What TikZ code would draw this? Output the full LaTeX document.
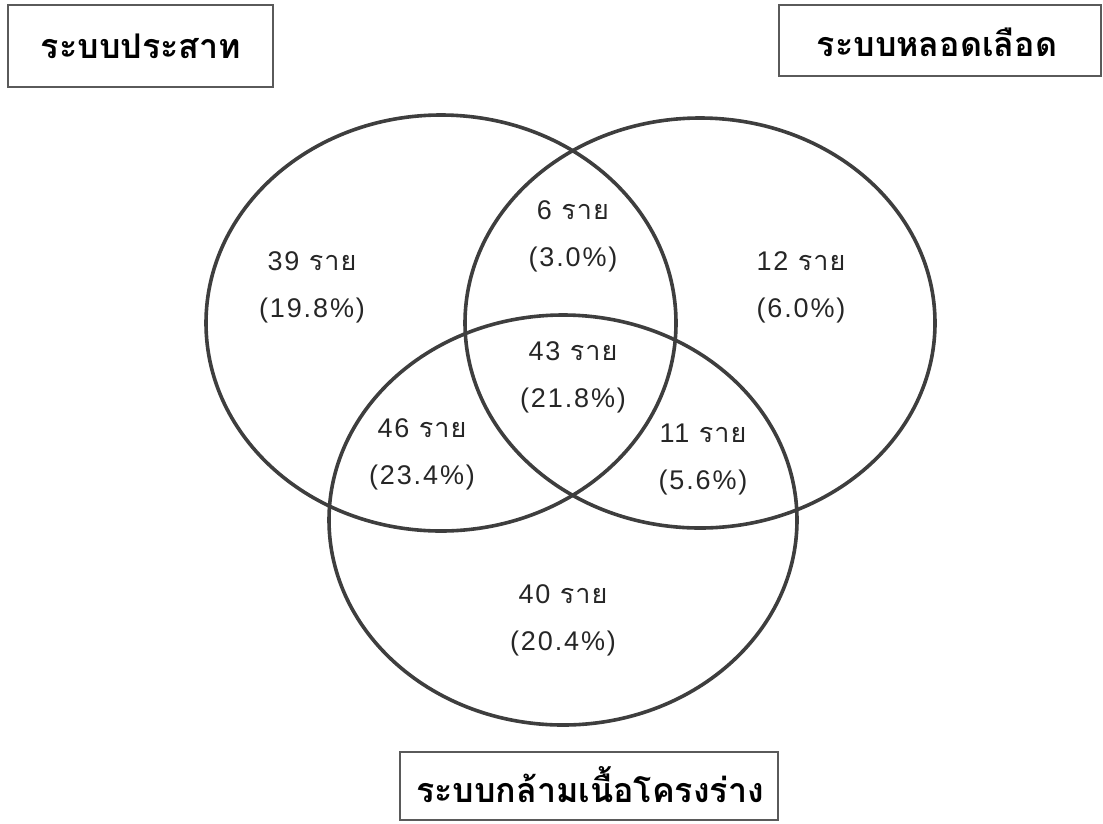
\documentclass[tikz,border=0pt]{standalone}
\usepackage{fontspec}
\setmainfont{Liberation Sans}
\newfontfamily\thai[Script=Thai]{Loma}
\newfontfamily\numfont[LetterSpace=7]{Liberation Sans}
\newfontfamily\thaisp[Script=Thai,LetterSpace=4]{Loma}
\definecolor{ringc}{RGB}{62,62,62}
\definecolor{boxc}{RGB}{90,90,90}
\begin{document}
\begin{tikzpicture}[x=1pt,y=-1pt,
  ring/.style={draw=ringc,line width=3.6pt},
  titlebox/.style={draw=boxc,line width=2pt,fill=white,inner sep=0pt},
  titletext/.style={font=\thai\bfseries\fontsize{34}{38}\selectfont},
  lbl/.style={align=center,font=\numfont\fontsize{27}{47}\selectfont,text=black!85}]
\useasboundingbox (0,0) rectangle (1103,823);
% sets
\draw[ring] (441,323) ellipse [x radius=235pt, y radius=208pt];
\draw[ring] (700,323) ellipse [x radius=235pt, y radius=205pt];
\draw[ring] (563,520) ellipse [x radius=234pt, y radius=205pt];
% title boxes
\node[titlebox,minimum width=265pt,minimum height=82pt] (bn) at (140.5,46) {};
\node[titletext] (tn) at (141,46) {ระบบประสาท};
\node[titlebox,minimum width=322pt,minimum height=71pt] (bc) at (940,40.5) {};
\node[titletext] (tc) at (937,42) {ระบบหลอดเลือด};
\node[titlebox,minimum width=378pt,minimum height=68pt] (bm) at (589,786) {};
\node[titletext] (tm) at (590,785) {ระบบกล้ามเนื้อโครงร่าง};
% counts
\node[lbl] (n39) at (312,287) {39 {\thaisp ราย}\\(19.8\%)};
\node[lbl] (n6) at (573,236) {6 {\thaisp ราย}\\(3.0\%)};
\node[lbl] (n12) at (801,287) {12 {\thaisp ราย}\\(6.0\%)};
\node[lbl] (n43) at (573,377) {43 {\thaisp ราย}\\(21.8\%)};
\node[lbl] (n46) at (422,454) {46 {\thaisp ราย}\\(23.4\%)};
\node[lbl] (n11) at (703,459) {11 {\thaisp ราย}\\(5.6\%)};
\node[lbl] (n40) at (563,620) {40 {\thaisp ราย}\\(20.4\%)};
\end{tikzpicture}
\end{document}
